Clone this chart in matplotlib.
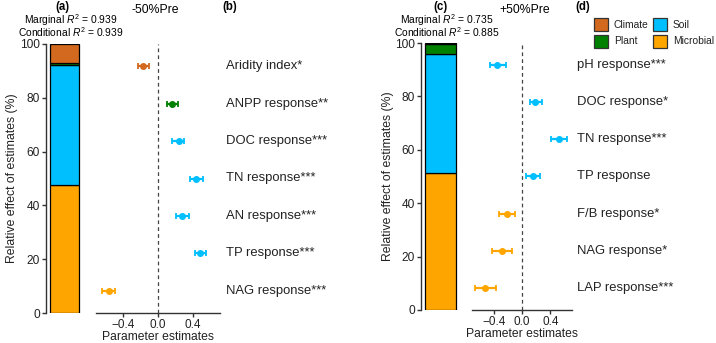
import matplotlib
matplotlib.use("Agg")
import matplotlib.pyplot as plt
from matplotlib.patches import Rectangle

plt.rcParams['font.family'] = ['Liberation Sans', 'DejaVu Sans']
plt.rcParams['mathtext.fontset'] = 'custom'
plt.rcParams['mathtext.rm'] = 'Liberation Sans'
plt.rcParams['mathtext.it'] = 'Liberation Sans:italic'

# group colours
colors = {'Climate': '#D2691E', 'Soil': '#00BFFF', 'Plant': '#008000', 'Microbial': '#FFA500'}
stack_order = ['Microbial', 'Soil', 'Plant', 'Climate']

# -50% precipitation
dry_share = {'Microbial': 47.4, 'Soil': 44.7, 'Plant': 0.9, 'Climate': 7.0}
dry_vars = ['Aridity index*', 'ANPP response**', 'DOC response***', 'TN response***',
            'AN response***', 'TP response***', 'NAG response***']
dry_group = ['Climate', 'Plant', 'Soil', 'Soil', 'Soil', 'Soil', 'Microbial']
dry_est = [-0.17, 0.165, 0.24, 0.44, 0.28, 0.48, -0.56]
dry_lo = [-0.225, 0.10, 0.16, 0.37, 0.21, 0.42, -0.64]
dry_hi = [-0.10, 0.225, 0.30, 0.51, 0.36, 0.55, -0.49]
dry_r2 = (0.939, 0.939)

# +50% precipitation
wet_share = {'Microbial': 51.2, 'Soil': 44.6, 'Plant': 3.8, 'Climate': 0.4}
wet_vars = ['pH response***', 'DOC response*', 'TN response***', 'TP response',
            'F/B response*', 'NAG response*', 'LAP response***']
wet_group = ['Soil', 'Soil', 'Soil', 'Soil', 'Microbial', 'Microbial', 'Microbial']
wet_est = [-0.35, 0.19, 0.52, 0.15, -0.21, -0.28, -0.52]
wet_lo = [-0.45, 0.11, 0.41, 0.05, -0.32, -0.42, -0.67]
wet_hi = [-0.23, 0.28, 0.64, 0.25, -0.10, -0.14, -0.37]
wet_r2 = (0.735, 0.885)

W, H = 716, 343
fig = plt.figure(figsize=(W / 100, H / 100), dpi=100)
AX_COL = '#333333'
TXT_COL = '#222222'


def px_axes(x0, x1, y0, y1):
    return fig.add_axes([x0 / W, 1 - y1 / H, (x1 - x0) / W, (y1 - y0) / H])


def bar_panel(ax, share):
    bottom = 0
    for g in stack_order:
        ax.bar(0.5, share[g], bottom=bottom, width=0.78, color=colors[g],
               edgecolor='black', linewidth=0.9)
        bottom += share[g]
    ax.set_xlim(0, 1)
    ax.set_ylim(0, 100)
    ax.set_yticks([0, 20, 40, 60, 80, 100])
    ax.set_xticks([])
    for s in ['top', 'right', 'bottom']:
        ax.spines[s].set_visible(False)
    ax.spines['left'].set_color(AX_COL)
    ax.spines['left'].set_linewidth(1.0)
    ax.tick_params(axis='y', labelsize=8.6, length=3, width=1.0, color=AX_COL,
                   pad=1.5, labelcolor=TXT_COL)


def forest_panel(ax, names, groups, est, lo, hi):
    n = len(names)
    ys = list(range(n, 0, -1))
    ax.axvline(0, color='#444444', linestyle=(0, (3, 2.5)), linewidth=0.9)
    for y, g, e, l, h in zip(ys, groups, est, lo, hi):
        ax.errorbar(e, y, xerr=[[e - l], [h - e]], fmt='o', color=colors[g],
                    markersize=4, elinewidth=1.6, capsize=2, capthick=1.3)
    for y, name in zip(ys, names):
        ax.text(1.045, y, name, transform=ax.get_yaxis_transform(),
                ha='left', va='center', fontsize=9.4, color=TXT_COL)
    ax.set_ylim(0.4, n + 0.6)
    ax.set_xlim(-0.71, 0.71)
    ax.set_xticks([-0.4, 0.0, 0.4])
    ax.set_xticklabels(['\u22120.4', '0.0', '0.4'])
    ax.set_yticks([])
    for s in ['top', 'right', 'left']:
        ax.spines[s].set_visible(False)
    ax.spines['bottom'].set_color(AX_COL)
    ax.spines['bottom'].set_linewidth(1.0)
    ax.tick_params(axis='x', labelsize=8.5, length=3, width=1.0, color=AX_COL,
                   pad=1.5, labelcolor=TXT_COL)
    ax.set_xlabel('Parameter estimates', fontsize=8.7, labelpad=0, color=TXT_COL)


ax_a = px_axes(46, 83, 44, 313)
bar_panel(ax_a, dry_share)
ax_b = px_axes(96, 220, 44, 313)
forest_panel(ax_b, dry_vars, dry_group, dry_est, dry_lo, dry_hi)

ax_c = px_axes(421, 460, 43, 310)
bar_panel(ax_c, wet_share)
ax_d = px_axes(471.7, 572.3, 43, 310)
forest_panel(ax_d, wet_vars, wet_group, wet_est, wet_lo, wet_hi)

# annotation layer in pixel units
ov = fig.add_axes([0, 0, 1, 1], zorder=-1)
ov.set_xlim(0, W)
ov.set_ylim(H, 0)
ov.axis('off')

ylab = 'Relative effect of estimates (%)'
ov.text(12, 178, ylab, rotation=90, ha='center', va='center', fontsize=8.8, color=TXT_COL)
ov.text(388, 176, ylab, rotation=90, ha='center', va='center', fontsize=8.8, color=TXT_COL)

for x, txt in [(62, '(a)'), (230, '(b)'), (440, '(c)'), (583, '(d)')]:
    ov.text(x, 7, txt, ha='center', va='center', fontsize=8.3, fontweight='bold')
ov.text(155, 10, '-50%Pre', ha='center', va='center', fontsize=8.8)
ov.text(525, 10, '+50%Pre', ha='center', va='center', fontsize=8.8)

for xc, (m, c) in [(70.5, dry_r2), (447, wet_r2)]:
    r2_txt = ('Marginal $\\mathit{R}^2$ = %.3f\nConditional $\\mathit{R}^2$ = %.3f' % (m, c))
    ov.text(xc, 25.5, r2_txt, ha='center', va='center', multialignment='center',
            linespacing=0.8, fontsize=7.4)

# legend for the variable groups
legend_pos = [('Climate', 594, 18), ('Soil', 653, 18), ('Plant', 594, 35), ('Microbial', 653, 35)]
for g, x, y in legend_pos:
    ov.add_patch(Rectangle((x, y), 14, 12.5, facecolor=colors[g], edgecolor='#333333', linewidth=0.9))
    ov.text(x + 20, y + 6.5, g, ha='left', va='center', fontsize=7.4, color=TXT_COL)

fig.savefig('out.png', dpi=100)
